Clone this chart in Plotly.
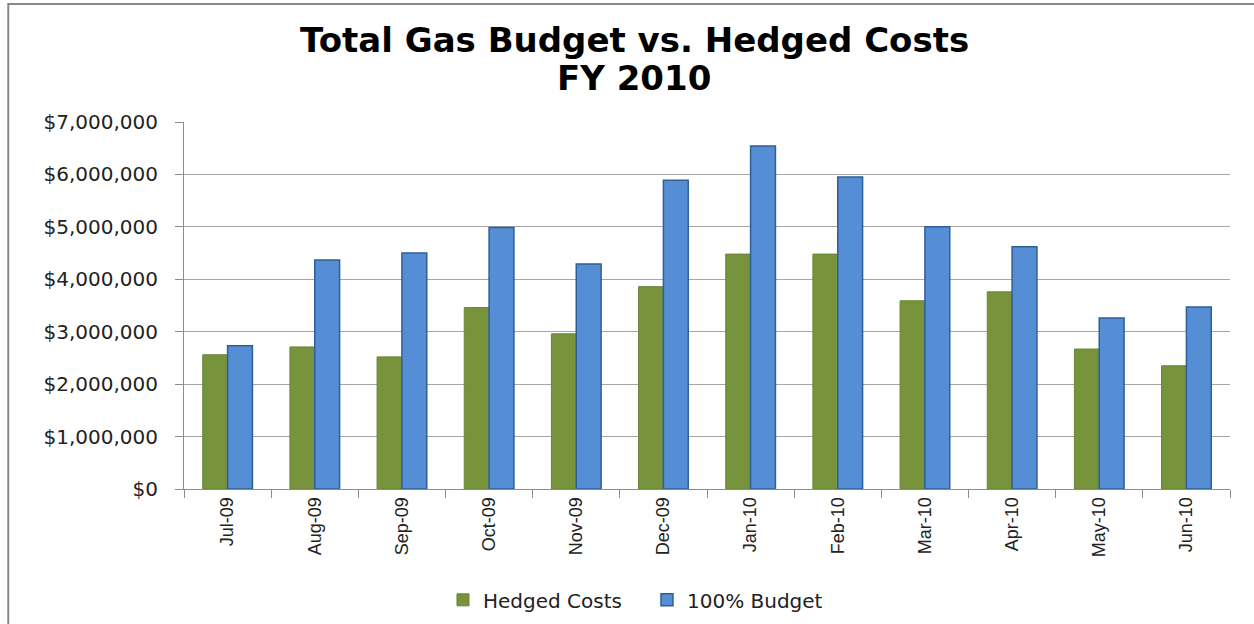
import plotly.graph_objects as go

months = ["Jul-09", "Aug-09", "Sep-09", "Oct-09", "Nov-09", "Dec-09",
          "Jan-10", "Feb-10", "Mar-10", "Apr-10", "May-10", "Jun-10"]
hedged_costs = [2560000, 2710000, 2520000, 3460000, 2960000, 3860000,
                4480000, 4480000, 3590000, 3760000, 2670000, 2350000]
budget_100 = [2730000, 4370000, 4500000, 4990000, 4290000, 5890000,
              6540000, 5950000, 5000000, 4620000, 3260000, 3470000]
y_ticks = [0, 1000000, 2000000, 3000000, 4000000, 5000000, 6000000, 7000000]
y_labels = ["$0", "$1,000,000", "$2,000,000", "$3,000,000", "$4,000,000",
            "$5,000,000", "$6,000,000", "$7,000,000"]
title_lines = ["Total Gas Budget vs. Hedged Costs", "FY 2010"]

fig = go.Figure()
fig.add_trace(go.Bar(x=months, y=hedged_costs, name="Hedged Costs",
                     marker=dict(color="#77933C", line=dict(color="#6A8535", width=1))))
fig.add_trace(go.Bar(x=months, y=budget_100, name="100% Budget",
                     marker=dict(color="#558ED5", line=dict(color="#2F5F98", width=1.5))))

fig.update_layout(
    width=1254, height=624,
    paper_bgcolor="white", plot_bgcolor="white",
    margin=dict(l=184, r=24, t=122, b=135, autoexpand=False),
    barmode="group", bargap=0.43, bargroupgap=0,
    font=dict(family="DejaVu Sans, sans-serif", color="#222"),
    legend=dict(orientation="h", x=0.2476, xanchor="left", y=-0.302, yanchor="middle",
                font=dict(size=20, family="DejaVu Sans, sans-serif", color="#222"),
                entrywidth=159, entrywidthmode="pixels",
                itemwidth=30, traceorder="normal"),
    showlegend=True,
)
for txt, ypix in zip(title_lines, [40, 78]):
    fig.add_annotation(text="<b>" + txt + "</b>", xref="paper", yref="paper",
                       x=(634 - 184) / 1046, y=(489 - ypix) / 367,
                       xanchor="center", yanchor="middle", showarrow=False,
                       font=dict(family="DejaVu Sans, sans-serif", size=34, color="black"))

fig.update_yaxes(range=[0, 7000000], tickvals=y_ticks, ticktext=y_labels,
                 showgrid=True, gridcolor="#A6A6A6", gridwidth=1,
                 showline=True, linecolor="#8C8C8C", linewidth=1,
                 ticks="outside", ticklen=8, tickcolor="#8C8C8C",
                 ticklabelstandoff=13, automargin=False,
                 tickfont=dict(size=20, family="DejaVu Sans, sans-serif", color="#222"),
                 zeroline=False, fixedrange=True)
fig.update_xaxes(tickangle=-90, showline=True, linecolor="#8C8C8C", linewidth=1,
                 ticks="outside", ticklen=8, tickcolor="#8C8C8C", tickson="boundaries",
                 automargin=False,
                 tickfont=dict(size=18, family="Liberation Sans Narrow, Arial Narrow, sans-serif", color="#222"),
                 showgrid=False, mirror=False)

fig.add_shape(type="rect", xref="paper", yref="paper",
              x0=-0.168, x1=1.1, y0=-0.6, y1=1.3215,
              line=dict(color="#888888", width=2), fillcolor="rgba(0,0,0,0)", layer="below")

fig.write_html("out.html")
